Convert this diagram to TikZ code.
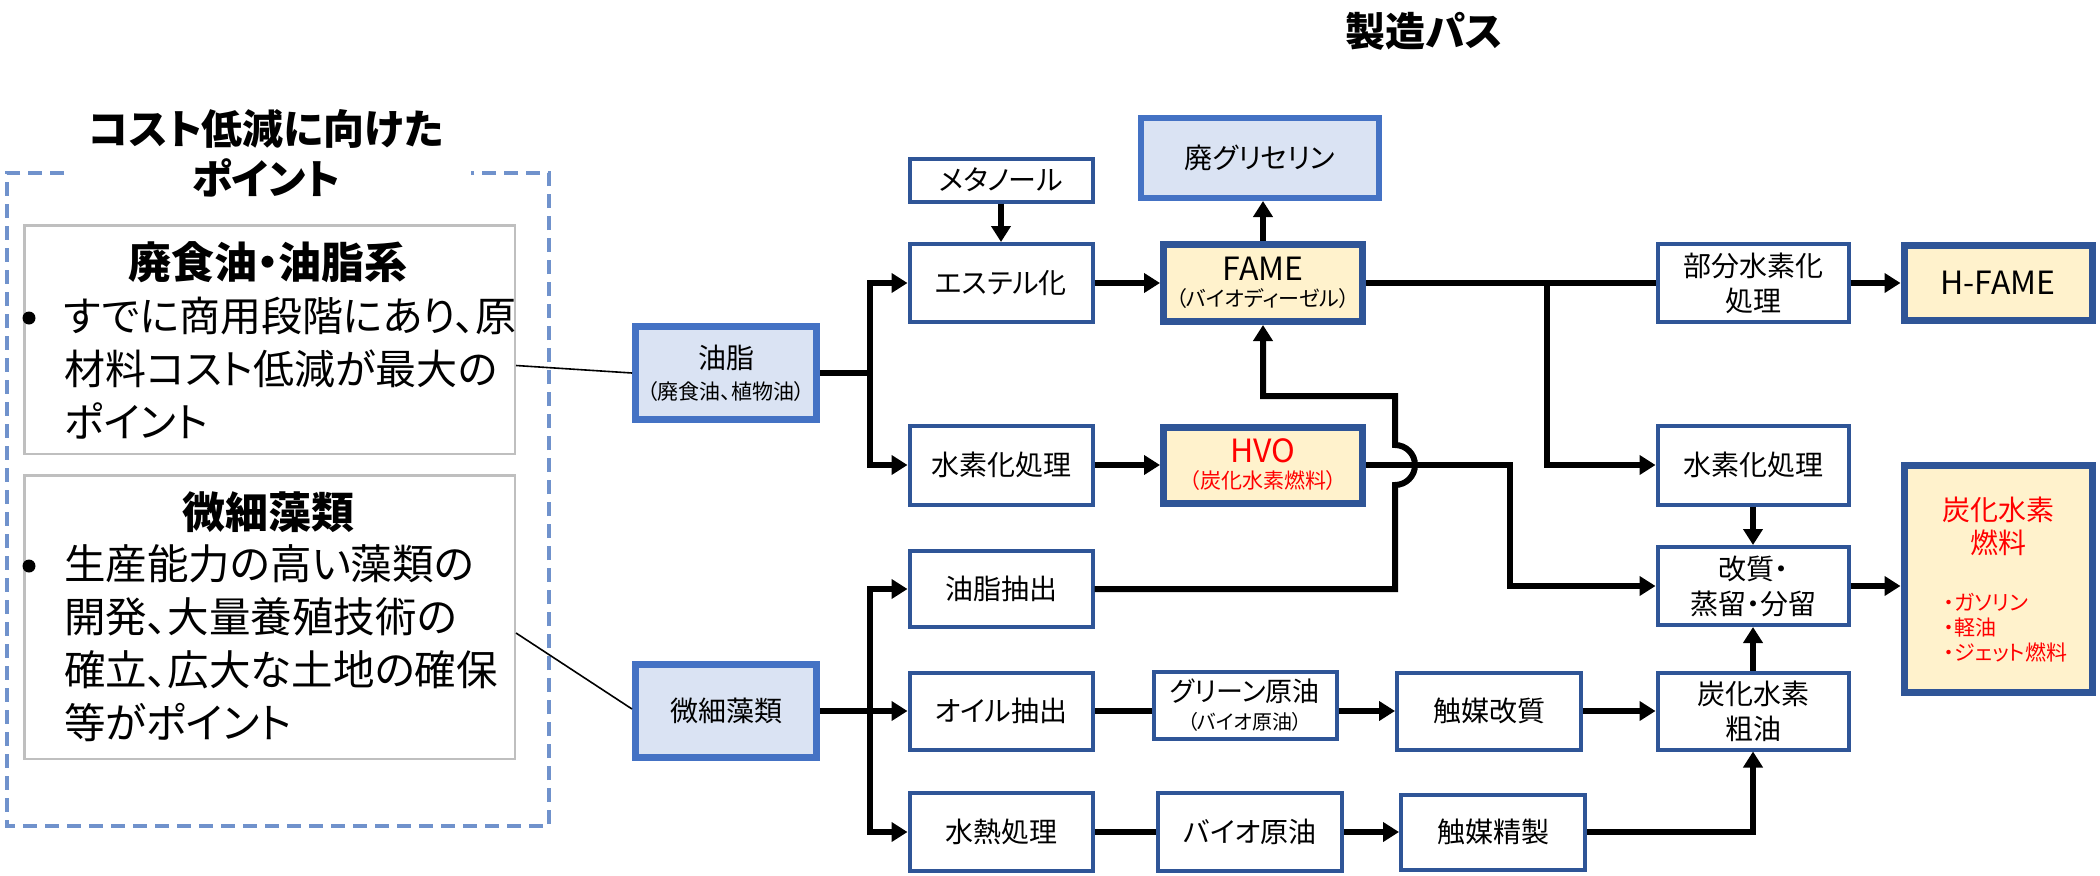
\documentclass[tikz,border=0pt]{standalone}
\usepackage{fontspec}
\setmainfont{Noto Sans CJK JP}[RawFeature=+palt]
\usetikzlibrary{arrows.meta}
\newcommand\fsz[2]{\fontsize{#1pt}{#2pt}\selectfont}
\definecolor{srcfill}{RGB}{218,227,243}
\definecolor{srcline}{RGB}{68,114,196}
\definecolor{procline}{RGB}{47,85,151}
\definecolor{prodfill}{RGB}{255,242,204}
\definecolor{prodline}{RGB}{47,85,151}
\definecolor{dashblue}{RGB}{112,146,204}
\definecolor{graybox}{RGB}{191,191,191}
\definecolor{fuelred}{RGB}{255,0,0}
\begin{document}
\begin{tikzpicture}[x=1pt,y=-1pt,
 proc/.style={draw=procline,line width=4pt,fill=white,inner sep=0pt,align=center,font=\fsz{28}{35}},
 src/.style={draw=srcline,line width=7pt,fill=srcfill,inner sep=0pt,align=center,font=\fsz{28}{35}},
 prod/.style={draw=prodline,line width=7pt,fill=prodfill,inner sep=0pt,align=center,font=\fsz{28}{35}},
 conn/.style={line width=6pt},
 arr/.style={line width=6pt,-{Triangle[length=16pt,width=19pt]}},
 note/.style={draw=graybox,line width=2.5pt,inner sep=0pt},
 thinline/.style={line width=1.6pt},
 bulletdot/.style={circle,fill=black,minimum size=13pt,inner sep=0pt},
 ]
\useasboundingbox (0,0) rectangle (2100,875);
\fill[white] (0,0) rectangle (2100,875);

% ---------- left panel ----------
\draw[dashblue,line width=3.5pt,dash pattern=on 14pt off 8pt]
  (64,173) -- (7,173) -- (7,826) -- (549,826) -- (549,173) -- (471,173);
\node[font=\bfseries\fsz{41}{50},align=center] (pttitle) at (266,153) {コスト低減に向けた\\ポイント};

\node[note,minimum width=490.5pt,minimum height=228.5pt] (note1) at (269.5,339.5) {};
\node[font=\bfseries\fsz{43}{50}] (t1) at (268,262) {廃食油・油脂系};
\node[bulletdot] (bul1) at (29,318) {};
\node[font=\fsz{41}{53},align=left,anchor=west,inner sep=0pt] (b1) at (64,368)
  {すでに商用段階にあり、原\\材料コスト低減が最大の\\ポイント};

\node[note,minimum width=490.5pt,minimum height=283.5pt] (note2) at (269.5,617) {};
\node[font=\bfseries\fsz{43}{50}] (t2) at (268,512) {微細藻類};
\node[bulletdot] (bul2) at (29,566) {};
\node[font=\fsz{41.5}{53},align=left,anchor=west,inner sep=0pt] (b2) at (64,643)
  {生産能力の高い藻類の\\開発、大量養殖技術の\\確立、広大な土地の確保\\等がポイント};

% ---------- title ----------
\node[font=\bfseries\fsz{40}{48}] (maintitle) at (1424,31) {製造パス};

% ---------- nodes ----------
\node[src,minimum width=181pt,minimum height=93pt,font=\fsz{21}{31}] (yushi) at (726,373) {{\fsz{28}{31}油脂}\\（廃食油、植物油）};
\node[src,minimum width=181pt,minimum height=93pt] (sorui) at (726,711) {微細藻類};

\node[proc,minimum width=183pt,minimum height=43pt] (methanol) at (1001,180) {メタノール};
\node[proc,minimum width=183pt,minimum height=78pt] (ester) at (1001,283) {エステル化};
\node[proc,minimum width=183pt,minimum height=79pt] (suiso1) at (1001,465) {水素化処理};
\node[proc,minimum width=183pt,minimum height=76pt] (yushichu) at (1001,589) {油脂抽出};
\node[proc,minimum width=183pt,minimum height=77pt] (oil) at (1001,711) {オイル抽出};
\node[proc,minimum width=183pt,minimum height=78pt] (netsu) at (1001,832) {水熱処理};

\node[draw=srcline,line width=6pt,fill=srcfill,inner sep=0pt,font=\fsz{28}{35},minimum width=238pt,minimum height=80pt] (glycerin) at (1260,158) {廃グリセリン};
\node[prod,minimum width=199pt,minimum height=77pt,font=\fsz{21}{26}] (fame) at (1263,283) {{\fsz{32}{26}FAME}\\（バイオディーゼル）};
\node[prod,minimum width=199pt,minimum height=76pt,font=\fsz{21}{26},text=fuelred] (hvo) at (1263,465) {{\fsz{32}{26}HVO}\\（炭化水素燃料）};

\node[proc,minimum width=183pt,minimum height=67pt,font=\fsz{20}{28}] (green) at (1245,705) {{\fsz{27}{28}グリーン原油}\\（バイオ原油）};
\node[proc,minimum width=184pt,minimum height=78pt] (bio) at (1250,832) {バイオ原油};
\node[proc,minimum width=184pt,minimum height=77pt] (cat1) at (1489,711) {触媒改質};
\node[proc,minimum width=184pt,minimum height=75pt] (cat2) at (1493,832) {触媒精製};

\node[proc,minimum width=191pt,minimum height=78pt] (bubun) at (1753,283) {部分水素化\\処理};
\node[proc,minimum width=191pt,minimum height=79pt] (suiso2) at (1753,465) {水素化処理};
\node[proc,minimum width=191pt,minimum height=78pt] (kaishitsu) at (1753,586) {改質・\\蒸留・分留};
\node[proc,minimum width=191pt,minimum height=77pt] (soyu) at (1753,711) {炭化水素\\粗油};

\node[prod,minimum width=188pt,minimum height=75pt,font=\fsz{32}{35}] (hfame) at (1998,283) {H-FAME};
\node[prod,minimum width=188pt,minimum height=227pt] (tanka) at (1998,579) {};
\node[font=\fsz{28}{33},text=fuelred,align=center] (fueltitle) at (1998,526) {炭化水素\\燃料};
\node[font=\fsz{21}{25},text=fuelred,align=left,anchor=west,inner sep=0pt] (fuellist) at (1944,628) {・ガソリン\\・軽油\\・ジェット燃料};

% ---------- thin pointer lines ----------
\draw[thinline] ([yshift=-26pt]note1.east) -- (yushi.west);
\draw[thinline] ([yshift=-16pt]note2.east) -- ([yshift=2pt]sorui.west);

% ---------- connectors ----------
\coordinate (tr1) at (870,373);
\coordinate (tr2) at (870,711);
\draw[conn] (yushi.east) -- (tr1);
\draw[arr] (tr1) |- (ester.west);
\draw[arr] (tr1) |- (suiso1.west);
\draw[arr] (sorui.east) -- (oil.west);
\draw[arr] (tr2) |- (yushichu.west);
\draw[arr] (tr2) |- (netsu.west);

\draw[arr] (methanol.south) -- (ester.north);
\draw[arr] (ester.east) -- (fame.west);
\draw[arr] (fame.north) -- (fame.north |- glycerin.south);
\draw[arr] (suiso1.east) -- (hvo.west);

\draw[conn] (fame.east) -- (bubun.west);
\coordinate (br1) at (1547,283);
\draw[arr] (br1) |- (suiso2.west);
\draw[arr] (bubun.east) -- (hfame.west);
\draw[arr] (suiso2.south) -- (kaishitsu.north);

\coordinate (hv1) at (1510,465);
\draw[arr] (hvo.east) -- (hv1) |- (kaishitsu.west);

\coordinate (jp) at (1395,465);
\coordinate (jtop) at (1395,396);
\draw[arr] (yushichu.east) -- (yushichu.east -| jp) -- ([yshift=-20pt]jp)
  arc[start angle=-90,end angle=90,radius=20pt] -- (jtop) -| (fame.south);

\draw[conn] (oil.east) -- (oil.east -| green.west);
\draw[arr] (oil.east -| green.east) -- (cat1.west);
\draw[arr] (cat1.east) -- (soyu.west);
\draw[arr] (soyu.north) -- (kaishitsu.south);
\draw[conn] (netsu.east) -- (bio.west);
\draw[arr] (bio.east) -- (cat2.west);
\draw[arr] (cat2.east) -| (soyu.south);
\draw[arr] (kaishitsu.east) -- (kaishitsu.east -| tanka.west);
\end{tikzpicture}
\end{document}
